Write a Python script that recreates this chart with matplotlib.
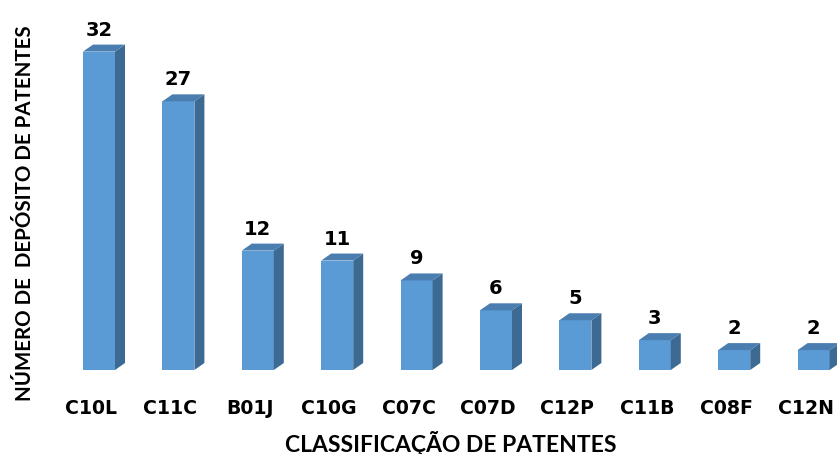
import matplotlib
matplotlib.use("Agg")
import matplotlib.pyplot as plt
from matplotlib.patches import Polygon

categories = ["C10L", "C11C", "B01J", "C10G", "C07C", "C07D", "C12P", "C11B", "C08F", "C12N"]
values = [32, 27, 12, 11, 9, 6, 5, 3, 2, 2]
x_title = "CLASSIFICAÇÃO DE PATENTES"
y_title = "NÚMERO DE  DEPÓSITO DE PATENTES"

W, H = 838, 454
fig = plt.figure(figsize=(W / 100, H / 100), dpi=100)

# axes placement in pixels
x0_px, x_scale = 99.0, 79.4      # centre of first bar, px per category
y0_px, y_scale = 370.0, 9.95     # baseline (from top), px per unit
xlim = (-0.6, 9.3)
ylim = (0, 35)
left = x0_px + xlim[0] * x_scale
right = x0_px + xlim[1] * x_scale
top = y0_px - ylim[1] * y_scale
ax = fig.add_axes([left / W, (H - y0_px) / H, (right - left) / W, (y0_px - top) / H])
ax.set_xlim(*xlim)
ax.set_ylim(*ylim)
ax.axis("off")

bw = 32 / x_scale
dx = 10 / x_scale
dy = 7 / y_scale
front_c = "#5B9BD5"
side_c = "#3C6A92"
top_c = "#4A7DB0"

for i, v in enumerate(values):
    xl, xr = i - bw / 2, i + bw / 2
    ax.bar(i, v, width=bw, color=front_c, edgecolor="none", zorder=2)
    ax.add_patch(Polygon([(xr, 0), (xr + dx, dy), (xr + dx, v + dy), (xr, v)],
                         closed=True, facecolor=side_c, edgecolor="none", zorder=2))
    ax.add_patch(Polygon([(xl, v), (xl + dx, v + dy), (xr + dx, v + dy), (xr, v)],
                         closed=True, facecolor=top_c, edgecolor="none", zorder=2))
    ax.text(i, v + 16 / y_scale, str(v), ha="center", va="baseline",
            fontsize=14, fontweight="bold", family="DejaVu Sans", color="black")
    ax.text(i - 8 / x_scale, -38 / y_scale, categories[i], ha="center", va="center",
            fontsize=13.6, fontweight="bold", family="DejaVu Sans", color="black")

fig.text(451 / W, 1 - 443 / H, x_title, ha="center", va="center",
         fontsize=16.5, fontweight="bold", family="Lato", color="black")
fig.text(25 / W, 1 - 213 / H, y_title, ha="center", va="center", rotation=90,
         fontsize=14.8, fontweight="bold", family="Lato", color="black")

fig.savefig("out.png", dpi=100)
